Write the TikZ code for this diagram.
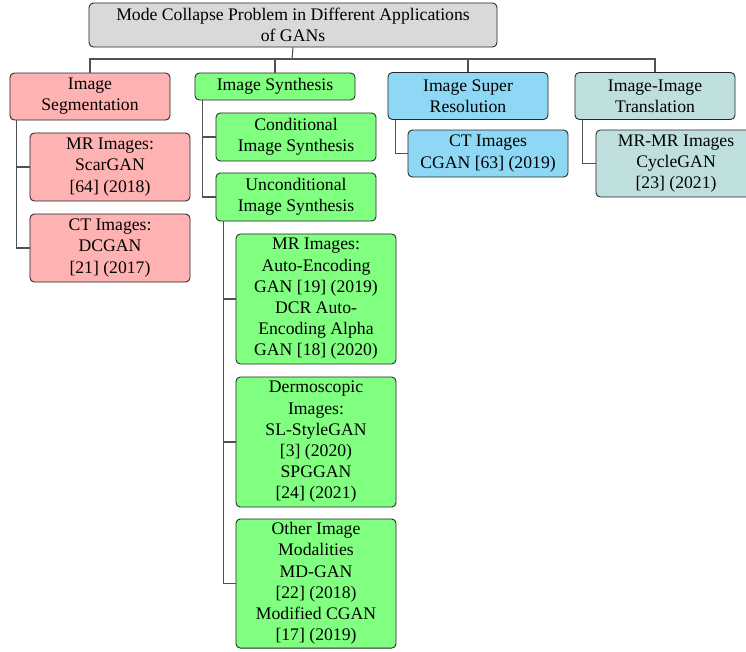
\documentclass[tikz,border=0pt]{standalone}
\usepackage{fontspec}
\setmainfont{Liberation Serif}
\definecolor{rootfill}{RGB}{217,217,217}
\definecolor{segfill}{RGB}{255,178,178}
\definecolor{synfill}{RGB}{128,255,128}
\definecolor{srfill}{RGB}{142,216,246}
\definecolor{itfill}{RGB}{191,223,223}
\definecolor{linkcol}{RGB}{80,80,80}
\tikzset{
  box/.style={draw=black!85, line width=0.5pt, rounded corners=2.5pt, align=center,
    minimum width=90.6pt, inner sep=1pt, font=\normalsize},
  link/.style={draw=linkcol, line width=0.6pt},
}
\begin{document}
\begin{tikzpicture}[x=0.566pt, y=-0.566pt]
\clip (0,0) rectangle (746,651);
\fill[white] (0,0) rectangle (746,651);
% root
\node[box, fill=rootfill, minimum width=230.9pt, minimum height=24.9pt] (root) at (293,25)
  {Mode Collapse Problem in Different Applications\\of GANs};
% level 1
\node[box, fill=segfill, minimum height=26.6pt] (seg) at (90,96.5) {Image\\Segmentation};
\node[box, fill=synfill, minimum height=15.3pt] (syn) at (275,86.5) {Image Synthesis};
\node[box, fill=srfill, minimum height=26.6pt] (sr) at (468,96) {Image Super\\Resolution};
\node[box, fill=itfill, minimum height=26.6pt] (it) at (655,96) {Image-Image\\Translation};
% segmentation children
\node[box, fill=segfill, minimum height=38.5pt] (mrseg) at (110,167) {MR Images:\\ScarGAN\\{}[64] (2018)};
\node[box, fill=segfill, minimum height=38.5pt] (ctseg) at (110,248) {CT Images:\\DCGAN\\{}[21] (2017)};
% synthesis children
\node[box, fill=synfill, minimum height=27.2pt] (cond) at (296,137) {Conditional\\Image Synthesis};
\node[box, fill=synfill, minimum height=27.2pt] (unc) at (296,197) {Unconditional\\Image Synthesis};
\node[box, fill=synfill, minimum height=73.6pt] (ae) at (316,299)
  {MR Images:\\Auto-Encoding\\GAN [19] (2019)\\DCR Auto-\\Encoding Alpha\\GAN [18] (2020)};
\node[box, fill=synfill, minimum height=73.6pt] (derm) at (316,442)
  {Dermoscopic\\Images:\\SL-StyleGAN\\{}[3] (2020)\\SPGGAN\\{}[24] (2021)};
\node[box, fill=synfill, minimum height=73.1pt] (oth) at (316,583.5)
  {Other Image\\Modalities\\MD-GAN\\{}[22] (2018)\\Modified CGAN\\{}[17] (2019)};
% super resolution child
\node[box, fill=srfill, minimum height=26.6pt] (ctsr) at (488,153.5) {CT Images\\CGAN [63] (2019)};
% translation child
\node[box, fill=itfill, minimum height=37.9pt] (mrmr) at (676,163.5) {MR-MR Images\\CycleGAN\\{}[23] (2021)};
% connectors
\coordinate (bus) at (292,59);
\draw[link] (root.south) -- (bus);
\draw[link] (seg.north) |- (bus);
\draw[link] (syn.north) |- (bus);
\draw[link] (sr.north) |- (bus);
\draw[link] (it.north) |- (bus);
\draw[link] ([xshift=4.0pt]seg.south west) |- (mrseg.west);
\draw[link] ([xshift=4.0pt]seg.south west) |- (ctseg.west);
\draw[link] ([xshift=4.5pt]syn.south west) |- (cond.west);
\draw[link] ([xshift=4.5pt]syn.south west) |- (unc.west);
\draw[link] ([xshift=4.5pt]unc.south west) |- (ae.west);
\draw[link] ([xshift=4.5pt]unc.south west) |- (derm.west);
\draw[link] ([xshift=4.5pt]unc.south west) |- (oth.west);
\draw[link] ([xshift=4.5pt]sr.south west) |- (ctsr.west);
\draw[link] ([xshift=4.5pt]it.south west) |- (mrmr.west);
\end{tikzpicture}
\end{document}
